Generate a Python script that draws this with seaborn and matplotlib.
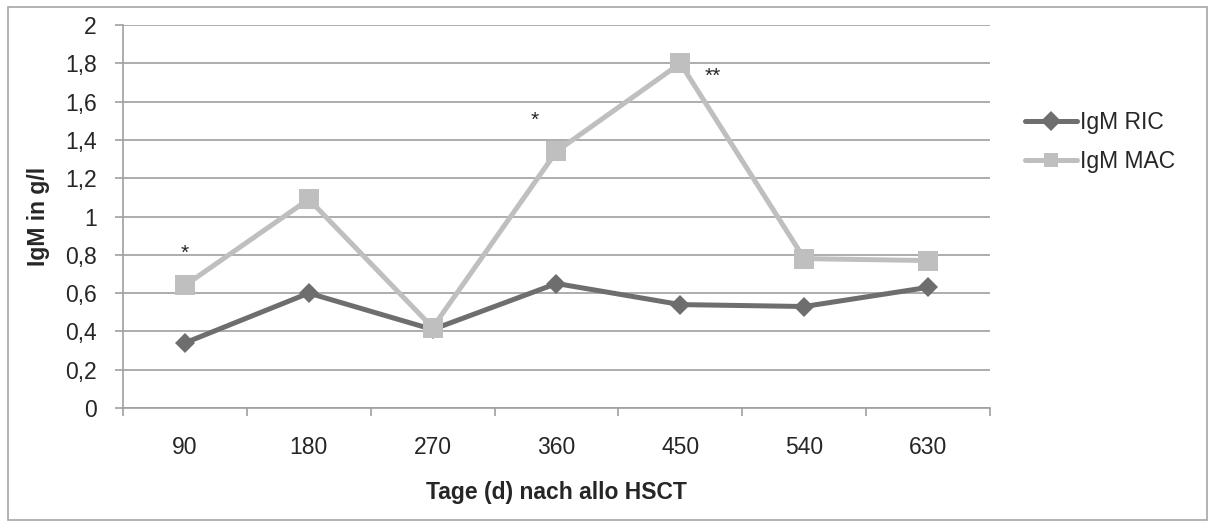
"""IgM nach allo HSCT: RIC vs MAC."""
import matplotlib
matplotlib.use('Agg')
import matplotlib.pyplot as plt
from matplotlib.patches import Rectangle
from matplotlib.ticker import FixedLocator, FuncFormatter
import pandas as pd
import seaborn as sns

days = ['90', '180', '270', '360', '450', '540', '630']
igm_ric = [0.34, 0.60, 0.41, 0.65, 0.54, 0.53, 0.63]
igm_mac = [0.64, 1.09, 0.42, 1.34, 1.80, 0.78, 0.77]
# significance marks: (category position, y value, text)
stars_pos = [0, 2.82, 4.265]
stars_y = [0.81, 1.50, 1.73]
stars_txt = ['*', '*', '**']

FS = 16.5

sns.set_style('white')
plt.rcParams['font.family'] = ['Liberation Sans', 'DejaVu Sans']

df = pd.DataFrame({
    'pos': list(range(len(days))) * 2,
    'igm': igm_ric + igm_mac,
    'gruppe': ['IgM RIC'] * len(days) + ['IgM MAC'] * len(days),
})

fig = plt.figure(figsize=(12.16, 5.28), dpi=100)
ax = fig.add_axes([123 / 1216, 120 / 528, 867 / 1216, 383 / 528])

# outer chart border
fig.patches.append(Rectangle((8 / 1216, 8 / 528), 1199 / 1216, 513 / 528,
                             transform=fig.transFigure, fill=False,
                             edgecolor='#a6a6a6', linewidth=1.2))

sns.lineplot(data=df, x='pos', y='igm', hue='gruppe', style='gruppe',
             palette={'IgM RIC': '#6e6e6e', 'IgM MAC': '#bfbfbf'},
             markers={'IgM RIC': 'D', 'IgM MAC': 's'}, dashes=False,
             linewidth=3.6, markeredgewidth=0, ax=ax)
# marker sizes differ per series
for line in ax.lines:
    if line.get_marker() == 's':
        line.set_markersize(14.5)
    elif line.get_marker() == 'D':
        line.set_markersize(10.5)

for p, y, t in zip(stars_pos, stars_y, stars_txt):
    ax.text(p, y, t, ha='center', va='center', fontsize=15)

ax.set_xlim(-0.5, len(days) - 0.5)
ax.set_ylim(0, 2)
ax.set_yticks([i * 0.2 for i in range(11)])
ax.yaxis.set_major_formatter(FuncFormatter(lambda v, _: f'{v:.1f}'.rstrip('0').rstrip('.').replace('.', ',') if v else '0'))
ax.yaxis.grid(True, color='#a0a0a0', linewidth=1.2)
ax.set_axisbelow(True)

ax.set_xticks(range(len(days)))
ax.set_xticklabels(days)
ax.xaxis.set_minor_locator(FixedLocator([i - 0.5 for i in range(len(days) + 1)]))
ax.tick_params(axis='x', which='major', length=0, pad=20, labelsize=FS)
ax.tick_params(axis='x', which='minor', length=6, direction='out', color='#a0a0a0', width=1.2)
ax.tick_params(axis='y', length=6, direction='out', color='#a0a0a0', width=1.2, labelsize=FS, pad=13)
ax.tick_params(bottom=True, left=True, which='both')

for side in ['top', 'right']:
    ax.spines[side].set_visible(False)
for side in ['left', 'bottom']:
    ax.spines[side].set_color('#a0a0a0')
    ax.spines[side].set_linewidth(1.2)

ax.set_xlabel('Tage (d) nach allo HSCT', fontsize=FS, fontweight='bold', labelpad=16)
ax.set_ylabel('IgM in g/l', fontsize=FS, fontweight='bold', labelpad=11)

leg = ax.legend(loc='center left', bbox_to_anchor=(1.040, 0.695), frameon=False,
                fontsize=FS, handlelength=2.3, labelspacing=0.72, handletextpad=0.12,
                borderpad=0, borderaxespad=0)
for h in leg.legend_handles:
    h.set_markersize(10.5)
    h.set_linewidth(3.6)

fig.savefig('out.png', dpi=100)
